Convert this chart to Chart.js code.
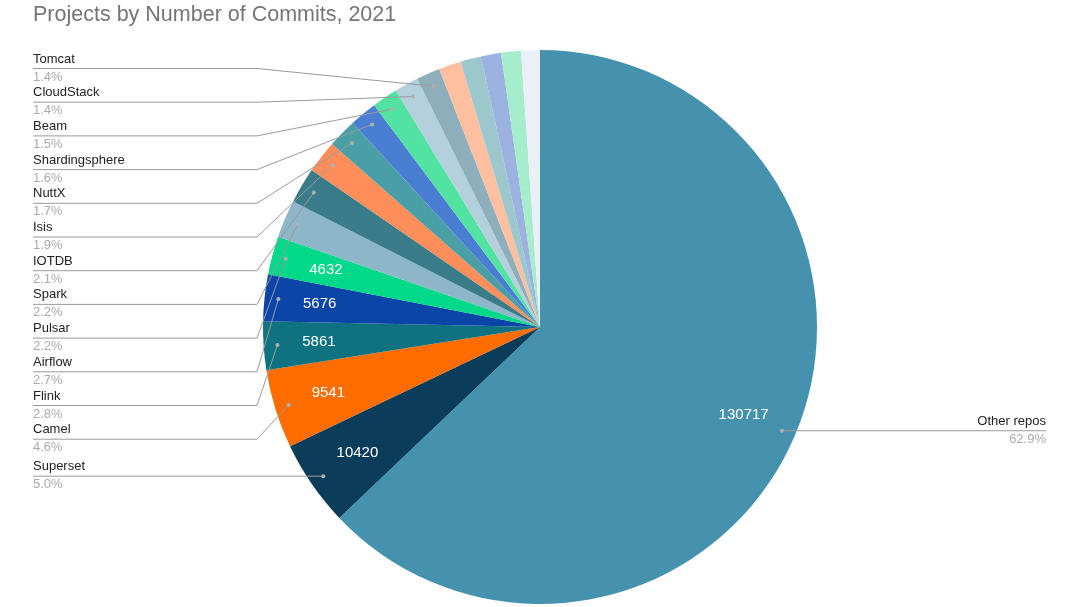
<!DOCTYPE html>
<html>
<head>
<meta charset="utf-8">
<title>Projects by Number of Commits, 2021</title>
<script src="https://cdn.jsdelivr.net/npm/chart.js@4"></script>
<style>
  html, body { margin: 0; padding: 0; background: #fff; }
  #chart { display: block; }
</style>
</head>
<body>
<canvas id="chart" width="1080" height="607"></canvas>
<script>
"use strict";

// slices in drawing order, clockwise from 12 o'clock
const projects = [
  "Other repos", "Superset", "Camel", "Flink", "Airflow", "Pulsar",
  "Spark", "IOTDB", "Isis", "NuttX", "Shardingsphere", "Beam",
  "CloudStack", "Tomcat",
  // last five slivers carry no label in the original chart
  "", "", "", "", "",
];
const commits = [
  130717, 10420, 9541, 5861, 5676, 4632,
  4570, 4360, 3950, 3530, 3330, 3120,
  2910, 2880,
  2700, 2500, 2450, 2400, 2271,
];
const sliceColors = [
  "#4592af", "#0b3d5a", "#ff6d00", "#0f7281", "#0b45a8", "#00d98a",
  "#8db7c9", "#3b7c8b", "#ff8e5a", "#4a9ea6", "#4a7ed3", "#52e3a3",
  "#b4d0dc", "#8eaebb", "#ffbfa0", "#9cc7cc", "#9cb3e2", "#a6edcc",
  "#ebf0f7",
];
const labelledCount = 14;    // slices that get a leader-line label
const minValueLabel = 4600;  // smaller slices don't show the count inside

const fontFamily = "'Liberation Sans', Arial, sans-serif";

const sliceLabels = {
  id: "sliceLabels",
  afterDatasetsDraw(chart) {
    const ctx = chart.ctx;
    const area = chart.chartArea;
    const meta = chart.getDatasetMeta(0);
    const total = commits.reduce((a, b) => a + b, 0);
    const left = [];
    const right = [];

    ctx.save();
    ctx.textBaseline = "middle";

    meta.data.forEach(function (arc, i) {
      const p = arc.getProps(["x", "y", "startAngle", "endAngle", "outerRadius"], true);
      const mid = (p.startAngle + p.endAngle) / 2;
      const cos = Math.cos(mid);
      const sin = Math.sin(mid);

      if (commits[i] >= minValueLabel) {
        ctx.fillStyle = "#ffffff";
        ctx.font = "15px " + fontFamily;
        ctx.textAlign = "center";
        ctx.fillText(String(commits[i]), p.x + cos * p.outerRadius * 0.8, p.y + sin * p.outerRadius * 0.8);
      }

      if (i < labelledCount) {
        const item = {
          name: projects[i],
          pct: (commits[i] / total * 100).toFixed(1) + "%",
          dx: p.x + cos * p.outerRadius * 0.95,
          dy: p.y + sin * p.outerRadius * 0.95,
        };
        (cos < 0 ? left : right).push(item);
      }
    });

    const drawDot = function (x, y) {
      ctx.fillStyle = "#b0b0b0";
      ctx.beginPath();
      ctx.arc(x, y, 2, 0, Math.PI * 2);
      ctx.fill();
    };

    const drawText = function (item, x, y, align) {
      ctx.textAlign = align;
      ctx.font = "13px " + fontFamily;
      ctx.fillStyle = "#222222";
      ctx.fillText(item.name, x, y - 9.5);
      ctx.fillStyle = "#ababab";
      ctx.fillText(item.pct, x, y + 8.5);
    };

    // left column: rows stacked from the top; the bottom one follows its slice
    const firstRowY = 68.5;
    const rowPitch = 33.7;
    const bendX = 257;
    left.sort(function (a, b) { return a.dy - b.dy; });
    left.forEach(function (item, k) {
      let y = firstRowY + k * rowPitch;
      if (k === left.length - 1) y = Math.max(y, item.dy);
      ctx.strokeStyle = "#9a9a9a";
      ctx.lineWidth = 1;
      ctx.beginPath();
      ctx.moveTo(area.left, y);
      ctx.lineTo(bendX, y);
      ctx.lineTo(item.dx, item.dy);
      ctx.stroke();
      drawDot(item.dx, item.dy);
      drawText(item, area.left, y, "left");
    });

    // right side: straight line out to the edge
    right.forEach(function (item) {
      const y = item.dy;
      const endX = area.right - 1;
      ctx.strokeStyle = "#9a9a9a";
      ctx.lineWidth = 1;
      ctx.beginPath();
      ctx.moveTo(item.dx, y);
      ctx.lineTo(endX, y);
      ctx.stroke();
      drawDot(item.dx, y);
      drawText(item, endX, y, "right");
    });

    ctx.restore();
  },
};

const ctxPie = document.getElementById("chart").getContext("2d");

new Chart(ctxPie, {
  type: "pie",
  data: {
    labels: projects,
    datasets: [
      {
        label: "Commits",
        data: commits,
        backgroundColor: sliceColors,
        borderWidth: 0,
      },
    ],
  },
  options: {
    responsive: false,
    animation: false,
    layout: { padding: { left: 33, right: 33, top: 0, bottom: 3 } },
    plugins: {
      legend: { display: false },
      tooltip: { enabled: false },
      title: {
        display: true,
        text: "Projects by Number of Commits, 2021",
        align: "start",
        color: "#757575",
        font: { family: fontFamily, size: 21.5, weight: "normal" },
        padding: { top: 2, bottom: 22.2 },
      },
    },
  },
  plugins: [sliceLabels],
});
</script>
</body>
</html>
